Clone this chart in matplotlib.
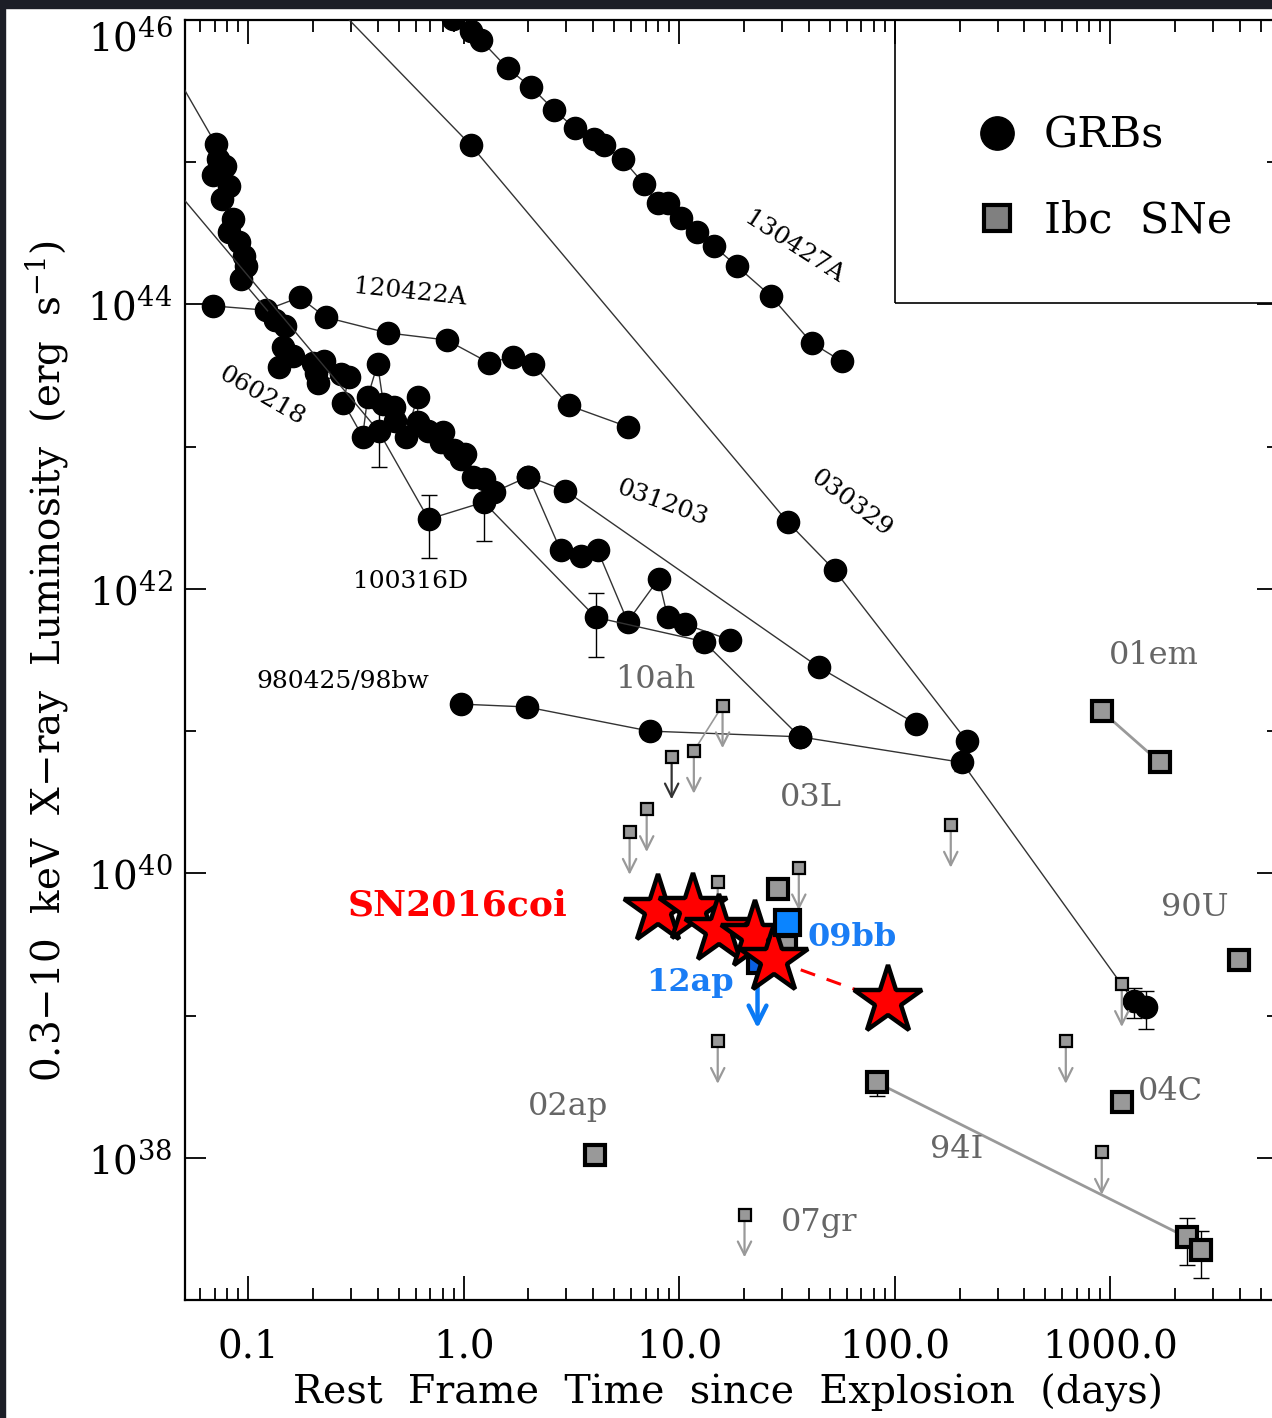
import numpy as np
import matplotlib
matplotlib.use("Agg")
import matplotlib.pyplot as plt
from matplotlib.patches import Rectangle
from matplotlib.lines import Line2D
from matplotlib.ticker import FixedLocator, FixedFormatter, NullFormatter

plt.rcParams['font.family'] = ['DejaVu Serif']
plt.rcParams['mathtext.fontset'] = 'dejavuserif'

# ---------- GRB X-ray light curves: time [days], log10 L_X [erg/s] ----------
t_130427A = [0.889, 1.08, 1.20, 1.60, 2.05, 2.62, 3.27, 4.01, 4.46, 5.47, 6.84,
             7.94, 8.85, 10.2, 12.1, 14.5, 18.5, 26.6, 41.2, 56.8]
lg_130427A = [46.01, 45.92, 45.86, 45.66, 45.53, 45.37, 45.24, 45.16, 45.12, 45.02,
              44.85, 44.71, 44.71, 44.61, 44.51, 44.41, 44.27, 44.06, 43.73, 43.60]

t_030329 = [0.24, 1.08, 31.9, 52.7, 216]
lg_030329 = [46.14, 45.12, 42.47, 42.13, 40.93]

t_120422A = [0.0685, 0.1206, 0.1734, 0.229, 0.444, 0.834, 1.31, 1.69, 2.09, 3.07, 5.77]
lg_120422A = [43.99, 43.96, 44.05, 43.91, 43.80, 43.75, 43.59, 43.63, 43.58, 43.29, 43.14]

t_060218 = [0.0437, 0.0707, 0.0722, 0.0786, 0.0685, 0.0812, 0.0761, 0.0848, 0.0812,
            0.0904, 0.0953, 0.0974, 0.0923, 0.134, 0.149, 0.146, 0.161, 0.139, 0.201,
            0.224, 0.206, 0.212, 0.269, 0.293, 0.277, 0.340, 0.359, 0.399, 0.425,
            0.473, 0.483, 0.538, 0.612, 0.612, 0.681, 0.799, 0.782, 0.899, 1.02,
            0.968, 1.11, 1.24, 1.38, 2.00, 2.97, 44.4, 126]
lg_060218 = [45.68, 45.13, 45.02, 44.97, 44.91, 44.83, 44.74, 44.60, 44.51, 44.44,
             44.34, 44.27, 44.18, 43.89, 43.85, 43.70, 43.64, 43.56, 43.59, 43.60,
             43.52, 43.45, 43.51, 43.49, 43.31, 43.07, 43.35, 43.58, 43.30, 43.28,
             43.18, 43.07, 43.35, 43.17, 43.11, 43.10, 43.03, 42.98, 42.95, 42.91,
             42.79, 42.77, 42.68, 42.79, 42.69, 41.45, 41.05]

t_031203 = [2.00, 2.82, 3.49, 4.19, 5.77, 8.03, 8.85, 10.7, 17.3]
lg_031203 = [42.79, 42.27, 42.23, 42.27, 41.77, 42.07, 41.80, 41.75, 41.64]

t_100316D = [0.0437, 0.403, 0.688, 1.24, 4.10, 13.0, 36.3]
lg_100316D = [44.85, 43.11, 42.49, 42.61, 41.80, 41.63, 40.96]
err_100316D = [5.7e42, 5.7e42, 1.45e42, 1.9e42, 3.0e41, 6.0e40, 1.0e40]

t_980425 = [0.968, 1.96, 7.30, 36.3, 205, 1285, 1462]
lg_980425 = [41.19, 41.17, 41.00, 40.96, 40.78, 39.10, 39.06]
err_980425 = [0, 0, 1.2e40, 1.0e40, 8.0e39, 3.0e38, 3.5e38]

# ---------- Type Ibc SNe ----------
t_01em = [913, 1698]
lg_01em = [41.14, 40.78]
t_94I = [82.5, 2265, 2630]
lg_94I = [38.53, 37.44, 37.35]
err_94I = [6.5e37, 1.0e37, 8.0e36]
t_sn_det = [3948, 1131, 4.05, 28.6, 31.2]       # 90U, 04C, 02ap, others
lg_sn_det = [39.39, 38.39, 38.02, 39.89, 39.49]

t_09bb, lg_09bb = [31.5], [39.66]
t_12ap, lg_12ap = [23.1], [39.37]

# upper limits
t_sn_ul = [15.9, 11.7, 7.07, 5.89, 15.1, 35.9, 182, 1131, 15.1, 622, 913, 20.1]
lg_sn_ul = [41.18, 40.86, 40.45, 40.29, 39.94, 40.04, 40.34, 39.22, 38.82, 38.82,
            38.04, 37.60]
t_03L_ul = [9.23]
lg_03L_ul = [40.82]

# ---------- SN2016coi ----------
t_16coi = [7.94, 11.6, 15.3, 22.6, 27.5, 92.8]
lg_16coi = [39.74, 39.75, 39.60, 39.56, 39.39, 39.10]

fig = plt.figure(figsize=(12.72, 14.18), dpi=100)
ax = fig.add_axes([185 / 1272, 118 / 1418, 1093 / 1272, 1280 / 1418])

grb_kw = dict(color='#333333', lw=1.0, marker='o', ms=16, mfc='black', mec='black', zorder=3)

def lum(lg):
    return 10 ** np.asarray(lg)

for t, lg in [(t_130427A, lg_130427A), (t_030329, lg_030329), (t_120422A, lg_120422A),
              (t_060218, lg_060218), (t_031203, lg_031203)]:
    ax.plot(t, lum(lg), **grb_kw)

for t, lg, e in [(t_100316D, lg_100316D, err_100316D), (t_980425, lg_980425, err_980425)]:
    ax.errorbar(t, lum(lg), yerr=e, fmt='none', ecolor='black', elinewidth=1.0,
                capsize=6, capthick=1.0, zorder=2)
    ax.plot(t, lum(lg), **grb_kw)

# SNe
sn_gray = '#999999'
big_sq = dict(ls='none', marker='s', ms=15, mfc=sn_gray, mec='black', mew=3, zorder=5)
ax.plot(t_01em, lum(lg_01em), color=sn_gray, lw=2, zorder=4)
ax.plot(t_01em, lum(lg_01em), **big_sq)
ax.errorbar(t_94I, lum(lg_94I), yerr=err_94I, fmt='none', ecolor='black',
            elinewidth=1.0, capsize=6, zorder=4)
ax.plot(t_94I[:2], lum(lg_94I[:2]), color=sn_gray, lw=2, zorder=4)
ax.plot(t_94I, lum(lg_94I), **big_sq)
ax.plot(t_sn_det, lum(lg_sn_det), **big_sq)

# upper limits with downward arrows
ax.plot([t_sn_ul[0], t_sn_ul[1]], lum([lg_sn_ul[0], lg_sn_ul[1]]), color=sn_gray,
        lw=1.2, zorder=4)
for t, lg in zip(t_sn_ul, lg_sn_ul):
    ax.annotate('', xy=(t, 10 ** (lg - 0.3)), xytext=(t, 10 ** lg),
                arrowprops=dict(arrowstyle='->', color=sn_gray, lw=1.6,
                                mutation_scale=24, shrinkA=0, shrinkB=0), zorder=4)
for t, lg in zip(t_03L_ul, lg_03L_ul):
    ax.annotate('', xy=(t, 10 ** (lg - 0.3)), xytext=(t, 10 ** lg),
                arrowprops=dict(arrowstyle='->', color='#333333', lw=1.6,
                                mutation_scale=24, shrinkA=0, shrinkB=0), zorder=4)
ax.plot(t_sn_ul + t_03L_ul, lum(lg_sn_ul + lg_03L_ul), 's', ms=9, mfc=sn_gray,
        mec='black', mew=1.6, zorder=5)

# 12ap
ax.annotate('', xy=(t_12ap[0], 10 ** (lg_12ap[0] - 0.46)), xytext=(t_12ap[0], 10 ** lg_12ap[0]),
            arrowprops=dict(arrowstyle='->', color='#0a7af5', lw=3.2,
                            mutation_scale=32, shrinkA=0, shrinkB=0), zorder=5)
ax.plot(t_12ap, lum(lg_12ap), 's', ms=15, mfc='#0a5fe0', mec='black', mew=3, zorder=6)

# SN2016coi
ax.plot(t_16coi, lum(lg_16coi), color='red', lw=2.2, ls=(0, (5, 4)), zorder=6)
ax.plot(t_16coi, lum(lg_16coi), '*', ms=52, mfc='red', mec='black', mew=3.2, zorder=7)

ax.plot(t_09bb, lum(lg_09bb), 's', ms=18, mfc='#0a84ff', mec='black', mew=3, zorder=8)

# axes
ax.set_xscale('log')
ax.set_yscale('log')
ax.set_xlim(0.051, 6000)
ax.set_ylim(1e37, 1e46)

ax.xaxis.set_major_locator(FixedLocator([0.1, 1, 10, 100, 1000]))
ax.xaxis.set_major_formatter(FixedFormatter(['0.1', '1.0', '10.0', '100.0', '1000.0']))
xminor = [m * 10.0 ** d for d in range(-2, 4) for m in range(2, 10)]
ax.xaxis.set_minor_locator(FixedLocator(xminor))
ax.xaxis.set_minor_formatter(NullFormatter())

ax.yaxis.set_major_locator(FixedLocator([1e38, 1e40, 1e42, 1e44, 1e46]))
ax.yaxis.set_major_formatter(FixedFormatter([r'$10^{38}$', r'$10^{40}$', r'$10^{42}$',
                                             r'$10^{44}$', r'$10^{46}$']))
ax.yaxis.set_minor_locator(FixedLocator([1e39, 1e41, 1e43, 1e45]))
ax.yaxis.set_minor_formatter(NullFormatter())

ax.tick_params(axis='x', which='major', direction='in', length=17, width=1.3,
               top=True, labelsize=28, pad=21)
ax.tick_params(axis='x', which='minor', direction='in', length=8.5, width=1.3, top=True)
ax.tick_params(axis='y', which='major', direction='in', length=15, width=1.3,
               right=True, labelsize=28, pad=9)
ax.tick_params(axis='y', which='minor', direction='in', length=8, width=1.3, right=True)
for s in ax.spines.values():
    s.set_linewidth(1.6)

fig.canvas.draw()
ax.get_yticklabels()[-1].set_va('top')

fig.text(728 / 1272, 1 - 1393 / 1418, 'Rest  Frame  Time  since  Explosion  (days)',
         ha='center', va='center', fontsize=28.5)
fig.text(47 / 1272, 1 - 661 / 1418, r'0.3$-$10  keV  X$-$ray  Luminosity  (erg  s$^{-1}$)',
         ha='center', va='center', rotation=90, fontsize=28)

# GRB names
def ax_xy(px, py):
    return ((px - 185) / 1093, (1300 - py) / 1280)

for name, px, py, rot in [('120422A', 410, 292, -6), ('060218', 262, 396, -30),
                          ('100316D', 411, 581, 0), ('031203', 662, 503, -20),
                          ('030329', 851, 503, -37), ('130427A', 794, 247, -33),
                          ('980425/98bw', 343, 681, 0)]:
    x, y = ax_xy(px, py)
    ax.text(x, y, name, transform=ax.transAxes, ha='center', va='center',
            rotation=rot, fontsize=18, color='black', zorder=9)

for name, px, py in [('10ah', 655, 680), ('03L', 811, 797), ('01em', 1154, 655),
                     ('90U', 1195, 907), ('04C', 1170, 1092), ('94I', 957, 1150),
                     ('02ap', 568, 1107), ('07gr', 819, 1223)]:
    x, y = ax_xy(px, py)
    ax.text(x, y, name, transform=ax.transAxes, ha='center', va='center',
            fontsize=23, color='#666666', zorder=9)

for name, px, py in [('09bb', 852, 938), ('12ap', 690, 982)]:
    x, y = ax_xy(px, py)
    ax.text(x, y, name, transform=ax.transAxes, ha='center', va='center',
            fontsize=23, color='#1a7df5', fontweight='bold', zorder=9)

x, y = ax_xy(458, 905)
ax.text(x, y, 'SN2016coi', transform=ax.transAxes, ha='center', va='center',
        fontsize=26, color='red', fontweight='bold', zorder=9)

# legend box
ax.add_patch(Rectangle((0.6496, 0.7789), 0.5, 0.3, transform=ax.transAxes,
                       fill=False, ec='black', lw=1.2, clip_on=True, zorder=9))
handles = [Line2D([], [], ls='none', marker='o', ms=24, mfc='black', mec='black'),
           Line2D([], [], ls='none', marker='s', ms=19, mfc='#808080', mec='black', mew=3)]
ax.legend(handles, ['GRBs', 'Ibc  SNe'], loc='upper left', bbox_to_anchor=(0.719, 0.926),
          frameon=False, fontsize=31, handletextpad=0.5, labelspacing=1.0,
          borderaxespad=0, borderpad=0, handlelength=1.2)

# dark strips around the page
fig.patches.append(Rectangle((0, 1 - 8 / 1418), 1, 8 / 1418, transform=fig.transFigure,
                             color='#1c1e27', zorder=10))
fig.patches.append(Rectangle((0, 0), 5 / 1272, 1, transform=fig.transFigure,
                             color='#1c1e27', zorder=10))

fig.savefig('out.png', dpi=100)
